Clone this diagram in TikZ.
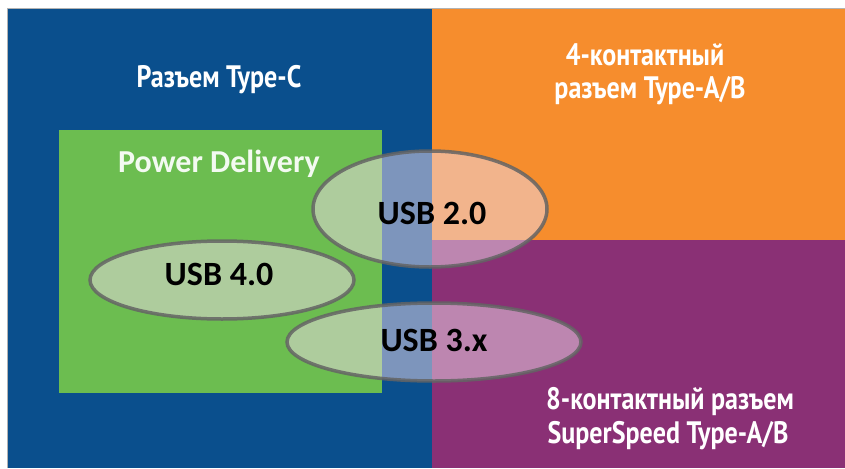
\documentclass[tikz,border=0pt]{standalone}
\usepackage{fontspec}
\setmainfont{Carlito}
\newfontfamily\headfont[FakeStretch=0.84]{PT Sans}
\newfontfamily\calfont{Carlito}
\definecolor{typecblue}{RGB}{10,79,141}
\definecolor{fourpin}{RGB}{246,141,45}
\definecolor{eightpin}{RGB}{138,48,117}
\definecolor{pdgreen}{RGB}{108,189,80}
\definecolor{ringgray}{RGB}{100,100,100}
\definecolor{veil}{RGB}{240,220,235}
\usetikzlibrary{shapes.geometric}
\tikzset{
  heading/.style={text=white, font=\headfont\bfseries\fontsize{31}{36}\selectfont, anchor=base, inner sep=0pt},
  usbspec/.style={ellipse, draw=ringgray, draw opacity=0.85, line width=3.5pt,
                  fill=veil, fill opacity=0.5, inner sep=0pt},
  usblabel/.style={text=black, font=\calfont\bfseries\fontsize{34}{40}\selectfont, inner sep=0pt, anchor=base},
}
\begin{document}
\begin{tikzpicture}[x=1pt, y=-1pt]
  \useasboundingbox (0,0) rectangle (845,468);
  \fill[white] (0,0) rectangle (845,468);
  % connector-type regions
  \fill[typecblue] (8,9) rectangle (432,468);
  \fill[fourpin] (432,9) rectangle (845,240);
  \fill[eightpin] (432,240) rectangle (845,468);
  \draw[gray!60, line width=0.8pt] (7.5,468) -- (7.5,8.5) -- (845,8.5);
  % Power Delivery block
  \fill[pdgreen] (59,130) rectangle (382,393);
  % USB generations
  \node[usbspec, minimum width=234pt, minimum height=116pt] (usb20) at (430,209) {};
  \node[usbspec, minimum width=264pt, minimum height=78pt] (usb40) at (222,280) {};
  \node[usbspec, minimum width=294pt, minimum height=78pt] (usb3x) at (434,342) {};
  \node[usblabel] (l20) at (432,224) {USB 2.0};
  \node[usblabel] (l40) at (219,285) {USB 4.0};
  \node[usblabel] (l3x) at (434,351) {USB 3.x};
  % region headings
  \node[heading] (typec) at (219,88) {Разъем Type-C};
  \node[text=white!92!pdgreen, font=\calfont\bfseries\fontsize{32}{36}\selectfont, anchor=base, inner sep=0pt] (pd) at (219,172) {Power Delivery};
  \node[heading] (four1) at (645,66) {4-контактный};
  \node[heading] (four2) at (650,99) {разъем Type-A/B};
  \node[heading] (eight1) at (670,409) {8-контактный разъем};
  \node[heading] (eight2) at (668,443) {SuperSpeed Type-A/B};
\end{tikzpicture}
\end{document}
